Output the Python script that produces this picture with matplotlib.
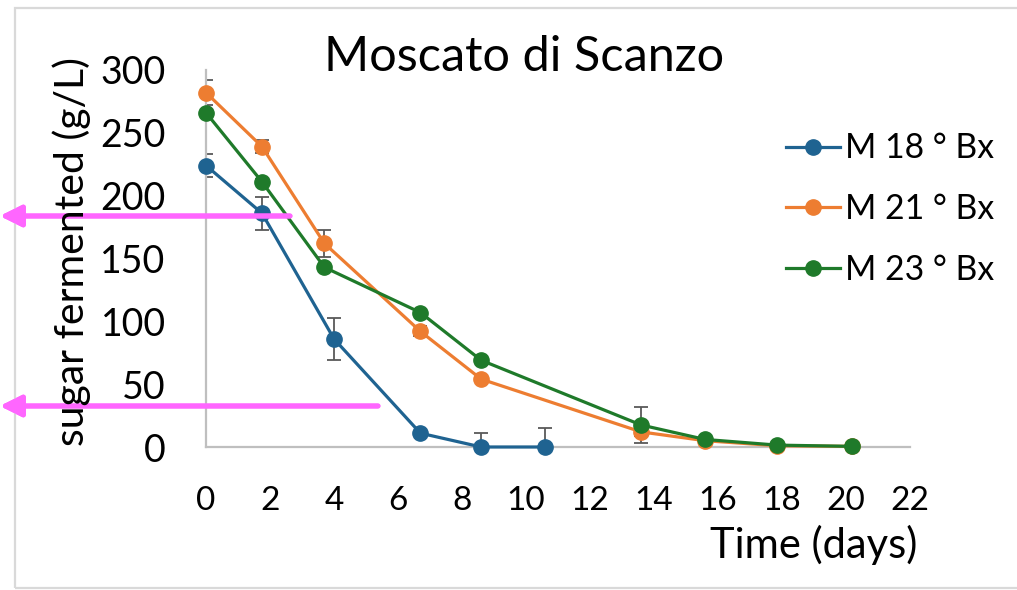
import matplotlib
matplotlib.use("Agg")
import matplotlib.pyplot as plt
from matplotlib.patches import Rectangle

plt.rcParams['font.family'] = ['Lato', 'DejaVu Sans']

# sampling times (days) and sugar fermented (g/L)
t_18 = [0, 1.75, 4.0, 6.7, 8.6, 10.6]
v_18 = [224, 186, 86, 11, 0, 0]
e_18 = [9, 13, 17, 2, 11, 15]

t_21 = [0, 1.75, 3.7, 6.7, 8.6, 13.6, 15.6, 17.85, 20.2]
v_21 = [282, 239, 162, 92, 54, 12, 5, 1, 0.5]
e_21 = [10, 5, 11, 4, 2, 3, 2, 1, 0.5]

t_23 = [0, 1.75, 3.7, 6.7, 8.6, 13.6, 15.6, 17.85, 20.2]
v_23 = [266, 211, 143, 107, 69, 17.5, 6, 1.5, 0.5]
e_23 = [2, 2, 2, 2, 2, 14, 1, 1, 0.5]

labels = ['M 18 ° Bx', 'M 21 ° Bx', 'M 23 ° Bx']
colors = ['#1f6391', '#ed7d31', '#1f7a2a']

W, H = 1017, 590
fig = plt.figure(figsize=(W / 100, H / 100), dpi=100)

# light frame around the chart
fig.patches.append(Rectangle((15 / W, 1 - 588 / H), 1.1, (588 - 8) / H,
                             transform=fig.transFigure, fill=False,
                             edgecolor='#d9d9d9', lw=1.6))

ax = fig.add_axes([206 / W, (H - 447) / H, 704 / W, 377 / H])

for t, v, e, lab, c in zip([t_18, t_21, t_23], [v_18, v_21, v_23],
                           [e_18, e_21, e_23], labels, colors):
    ax.errorbar(t, v, yerr=e, fmt='none', ecolor='#595959', elinewidth=1.3,
                capsize=5, capthick=1.3, zorder=2)
    ax.plot(t, v, '-o', color=c, lw=2.3, ms=11, label=lab, clip_on=False,
            zorder=3)

ax.set_xlim(0, 22)
ax.set_ylim(0, 300)
ax.set_xticks(range(0, 23, 2))
ax.set_yticks(range(0, 301, 50))
for s in ['top', 'right']:
    ax.spines[s].set_visible(False)
for s in ['left', 'bottom']:
    ax.spines[s].set_color('#bfbfbf')
    ax.spines[s].set_linewidth(1.6)
ax.tick_params(axis='y', length=0, pad=29, labelsize=27)
ax.tick_params(axis='x', length=0, pad=28, labelsize=24)

fig.text(524 / W, 1 - 57 / H, 'Moscato di Scanzo', ha='center', va='center',
         fontsize=35)
fig.text(72 / W, 1 - 252 / H, 'sugar fermented (g/L)', ha='center',
         va='center', rotation=90, fontsize=29.5)
fig.text(814 / W, 1 - 545 / H, 'Time (days)', ha='center', va='center',
         fontsize=30)

fig.legend(loc='upper left', bbox_to_anchor=(772 / W, 1 - 119 / H),
           frameon=False, fontsize=24.3, handlelength=1.6, handletextpad=0.15,
           labelspacing=0.85, borderaxespad=0)

# pink pointer arrows
for x0, y0 in [(290, 216), (378, 406)]:
    fig.add_artist(plt.annotate('', xy=(0, 1 - y0 / H), xycoords='figure fraction',
                                xytext=(x0 / W, 1 - y0 / H),
                                textcoords='figure fraction',
                                arrowprops=dict(arrowstyle='-|>', color='#ff66ff',
                                                lw=3.6, mutation_scale=32,
                                                shrinkA=0, shrinkB=0)))

fig.savefig('out.png', dpi=100)
